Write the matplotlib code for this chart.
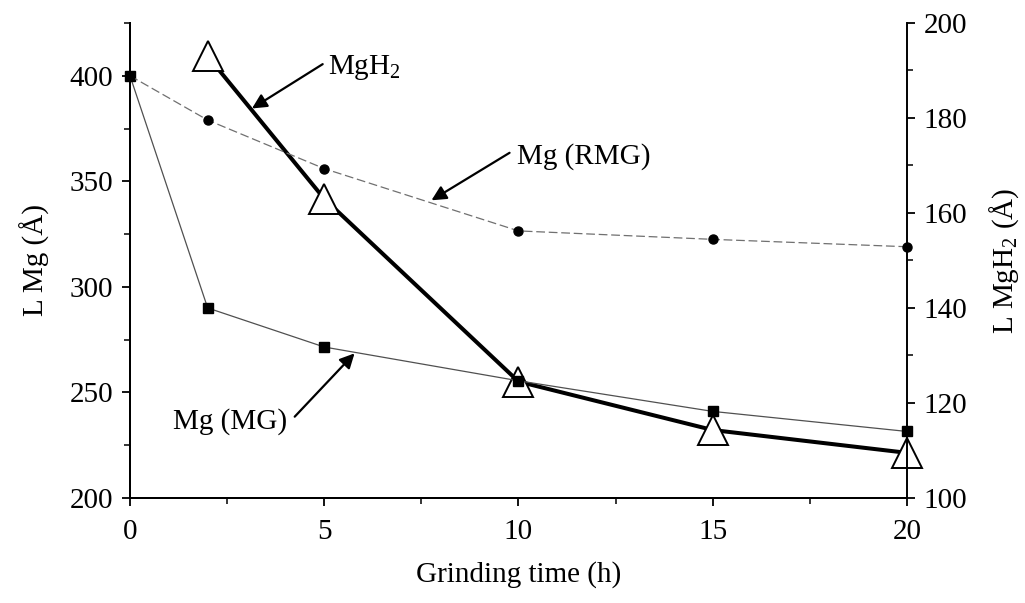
import matplotlib
matplotlib.use("Agg")
import matplotlib.pyplot as plt
from matplotlib.ticker import MultipleLocator

plt.rcParams["font.family"] = ["Liberation Serif", "DejaVu Serif"]
plt.rcParams["mathtext.fontset"] = "custom"
plt.rcParams["mathtext.rm"] = "Liberation Serif"
plt.rcParams["font.size"] = 21

# Mg crystallite size (left axis)
T_MG = [0, 2, 5, 10, 15, 20]
L_MG = [400, 290, 271.5, 255.5, 241, 231.5]  # Mg (MG)
T_RMG = [0, 2, 5, 10, 15, 20]
L_RMG = [400, 379, 356, 326.5, 322.5, 319]  # Mg (RMG)

# MgH2 crystallite size (right axis)
T_MGH2 = [2, 5, 10, 15, 20]
L_MGH2 = [193, 163, 124.5, 114.3, 109.5]

fig = plt.figure(figsize=(10.25, 6.03), dpi=100)
ax = fig.add_axes([0.1268, 0.1742, 0.7581, 0.7877])
ax2 = ax.twinx()

ax.plot(T_MG, L_MG, color="#505050", lw=0.9, marker="s", ms=6.5,
        mfc="black", mec="black", clip_on=False)
ax.plot(T_RMG, L_RMG, color="#707070", lw=0.9, ls=(0, (7, 3)), marker="o",
        ms=6.5, mfc="black", mec="black", clip_on=False)
ax2.plot(T_MGH2, L_MGH2, color="black", lw=2.9, marker="^", ms=22,
         mfc="white", mec="black", mew=1.4, clip_on=False)

# left axis drawn above the twin so the small markers sit on top
ax.set_zorder(2)
ax.patch.set_visible(False)

ax.set_xlim(0, 20)
ax.set_ylim(200, 425)
ax2.set_ylim(100, 200)

ax.xaxis.set_major_locator(MultipleLocator(5))
ax.xaxis.set_minor_locator(MultipleLocator(2.5))
ax.yaxis.set_major_locator(MultipleLocator(50))
ax.yaxis.set_minor_locator(MultipleLocator(25))
ax2.yaxis.set_major_locator(MultipleLocator(20))
ax2.yaxis.set_minor_locator(MultipleLocator(10))

for a in (ax, ax2):
    a.spines["top"].set_visible(False)
    for s in a.spines.values():
        s.set_linewidth(1.4)
    a.tick_params(which="major", direction="out", length=6, width=1.3, pad=6)
    a.tick_params(which="minor", direction="out", length=4, width=1.1)
ax.spines["right"].set_visible(False)
ax.tick_params(axis="x", which="major", pad=9)

ax.set_xlabel("Grinding time (h)", labelpad=12)
ax.set_ylabel("L Mg (Å)", labelpad=14)
ax2.set_ylabel("L MgH$_2$ (Å)", labelpad=14)

arrow = dict(arrowstyle="-|>", color="black", lw=1.6, mutation_scale=22,
             shrinkA=0, shrinkB=0)
ax.annotate("", xy=(3.14, 384.5), xytext=(4.96, 405.5), arrowprops=arrow)
ax.text(5.1, 404, "MgH$_2$", ha="left", va="center")
ax.annotate("", xy=(7.76, 341), xytext=(9.77, 363.5), arrowprops=arrow)
ax.text(9.95, 361.5, "Mg (RMG)", ha="left", va="center")
ax.annotate("", xy=(5.78, 268.5), xytext=(4.24, 238.5), arrowprops=arrow)
ax.text(1.1, 236, "Mg (MG)", ha="left", va="center")

fig.savefig("out.png", dpi=100)
